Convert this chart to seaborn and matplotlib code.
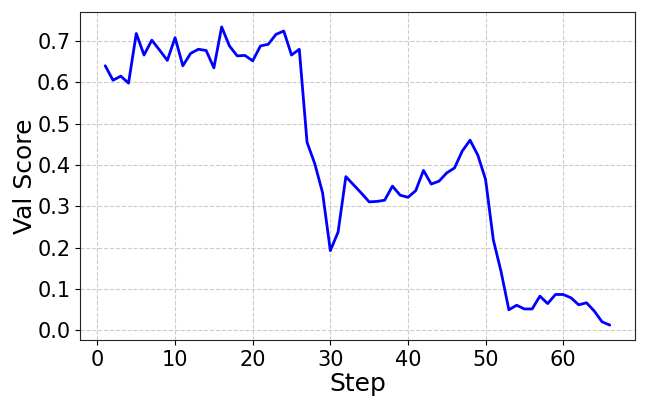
import numpy as np
import pandas as pd
import seaborn as sns
import matplotlib
matplotlib.use("Agg")
import matplotlib.pyplot as plt

# Values
steps = list(range(1, 67))
val_score = [
    0.640, 0.605, 0.615, 0.598, 0.718, 0.666, 0.702, 0.678, 0.653, 0.708,
    0.640, 0.670, 0.680, 0.677, 0.635, 0.734, 0.688, 0.664, 0.665, 0.652,
    0.688, 0.692, 0.716, 0.724, 0.666, 0.680, 0.455, 0.403, 0.333, 0.193,
    0.238, 0.372, 0.352, 0.332, 0.311, 0.312, 0.315, 0.349, 0.327, 0.322,
    0.338, 0.387, 0.354, 0.361, 0.381, 0.393, 0.434, 0.460, 0.424, 0.365,
    0.219, 0.142, 0.050, 0.061, 0.052, 0.052, 0.083, 0.065, 0.087, 0.087,
    0.079, 0.062, 0.067, 0.047, 0.021, 0.013,
]
y_ticks = [0.0, 0.1, 0.2, 0.3, 0.4, 0.5, 0.6, 0.7]

df = pd.DataFrame({"Step": steps, "Val Score": val_score})

sns.set_style("ticks")
plt.rcParams["font.family"] = ["DejaVu Sans"]
plt.rcParams["text.color"] = "black"
plt.rcParams["axes.labelcolor"] = "black"
plt.rcParams["xtick.color"] = "black"
plt.rcParams["ytick.color"] = "black"

fig, ax = plt.subplots(figsize=(6.48, 4.05), dpi=100)
fig.subplots_adjust(left=80 / 648, right=635 / 648, top=1 - 12 / 405, bottom=1 - 340 / 405)

sns.lineplot(data=df, x="Step", y="Val Score", color="blue", linewidth=2, ax=ax)

ax.set_yticks(y_ticks)
ax.grid(True, linestyle="--", color="#cccccc", linewidth=0.8)
ax.set_xlabel("Step", fontsize=18, labelpad=2)
ax.set_ylabel("Val Score", fontsize=18, labelpad=0)
ax.tick_params(labelsize=15)
for s in ax.spines.values():
    s.set_color("#222222")

fig.savefig("out.png", dpi=100)
